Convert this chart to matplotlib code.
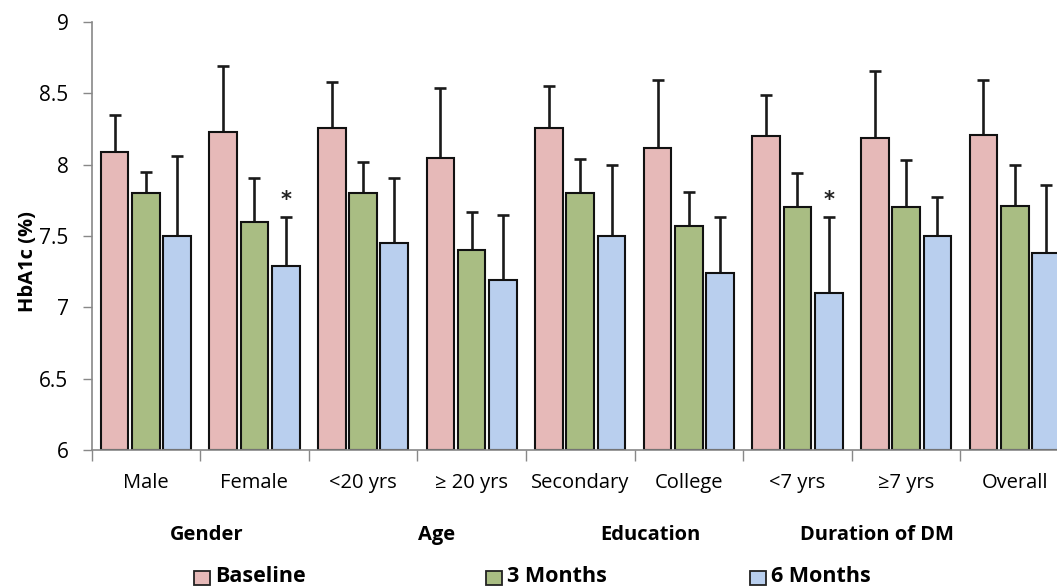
import matplotlib
matplotlib.use("Agg")
import matplotlib.pyplot as plt
import numpy as np

categories = ["Male", "Female", "<20 yrs", "\u2265 20 yrs", "Secondary", "College", "<7 yrs", "\u22657 yrs", "Overall"]
groups = ["Gender", "Age", "Education", "Duration of DM"]
series = ["Baseline", "3 Months", "6 Months"]
baseline = [8.09, 8.23, 8.26, 8.05, 8.26, 8.12, 8.20, 8.19, 8.21]
baseline_top = [8.35, 8.69, 8.58, 8.54, 8.55, 8.59, 8.49, 8.66, 8.59]
m3 = [7.80, 7.60, 7.80, 7.40, 7.80, 7.57, 7.70, 7.70, 7.71]
m3_top = [7.95, 7.91, 8.02, 7.67, 8.04, 7.81, 7.94, 8.03, 8.00]
m6 = [7.50, 7.29, 7.45, 7.19, 7.50, 7.24, 7.10, 7.50, 7.38]
m6_top = [8.06, 7.63, 7.91, 7.65, 8.00, 7.63, 7.63, 7.77, 7.86]
significant = ["Female", "<7 yrs"]
ytick_vals = [6, 6.5, 7, 7.5, 8, 8.5, 9]
ytick_labels = ["6", "6.5", "7", "7.5", "8", "8.5", "9"]

plt.rcParams['font.family'] = ['Open Sans', 'DejaVu Sans']
colors = ["#E6B9B8", "#A9BD83", "#B9CFEE"]
W, H = 1057, 588
fig = plt.figure(figsize=(W / 100, H / 100), dpi=100)
left, right, top, bottom = 91.5, 1069, 22, 450
ax = fig.add_axes([left / W, 1 - bottom / H, (right - left) / W, (bottom - top) / H])

x = np.arange(len(categories))
bw = 0.255
step = 0.288
vals = [baseline, m3, m6]
tops = [baseline_top, m3_top, m6_top]
for i, (v, t, c) in enumerate(zip(vals, tops, colors)):
    xs = x + (i - 1) * step
    v = np.array(v); t = np.array(t)
    ax.errorbar(xs, v, yerr=[np.zeros_like(v), t - v], fmt='none', ecolor='#1a1a1a',
                elinewidth=1.9, capsize=4.5, capthick=1.9, zorder=1)
    ax.bar(xs, v - 6, bottom=6, width=bw, color=c, edgecolor='#111111', linewidth=1.5,
           label=series[i], zorder=2)

for name in significant:
    k = categories.index(name)
    ax.text(x[k] + step, m6_top[k] + 0.12, "*", ha='center', va='center', fontsize=15,
            color='#222222', family='DejaVu Sans', fontweight='bold')

ax.set_xlim(-0.5, len(categories) - 0.5)
ax.set_ylim(6, 9)
ax.set_yticks(ytick_vals)
ax.set_yticklabels(ytick_labels, fontsize=15)
ax.tick_params(axis='y', length=6.5, color='#888888', width=1, pad=10)
ax.set_xticks(np.arange(len(categories) + 1) - 0.5)
ax.set_xticklabels([])
ax.tick_params(axis='x', length=8, color='#888888', width=1, direction='out')
for sp in ['top', 'right']:
    ax.spines[sp].set_visible(False)
for sp in ['left', 'bottom']:
    ax.spines[sp].set_color('#888888')
    ax.spines[sp].set_linewidth(1.2)

for k, name in enumerate(categories):
    ax.text(x[k], 5.77, name, ha='center', va='center', fontsize=14.5, transform=ax.transData,
            clip_on=False)

group_x = [207, 437, 650, 877]
for gx, g in zip(group_x, groups):
    fig.text(gx / W, 1 - 535 / H, g, ha='center', va='center', fontsize=14.5, fontweight='bold')

fig.text(28 / W, 1 - 262 / H, "HbA1c (%)", rotation=90, ha='center', va='center',
         fontsize=14.5, fontweight='bold')

leg_x = [194, 486, 750]
for lx, c, s in zip(leg_x, colors, series):
    fig.patches.append(plt.Rectangle((lx / W, 1 - 585 / H), 16 / W, 14 / H,
                                     transform=fig.transFigure, facecolor=c,
                                     edgecolor='#222222', linewidth=1.3))
    fig.text((lx + 21) / W, 1 - 577 / H, s, ha='left', va='center', fontsize=15.5,
             fontweight='bold')

fig.savefig("out.png", dpi=100)
